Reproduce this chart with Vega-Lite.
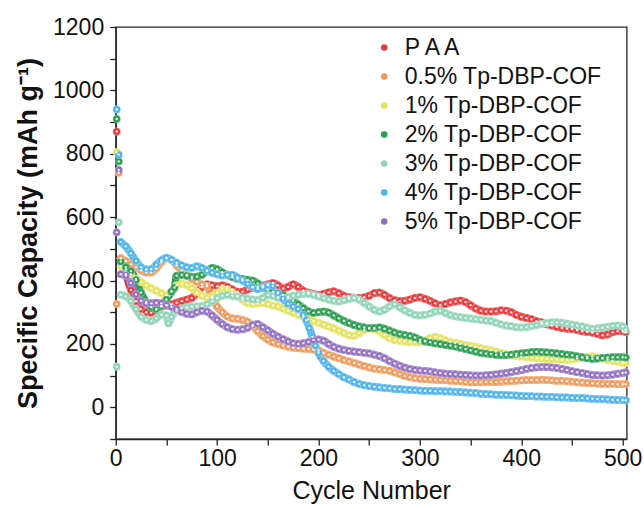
{
"$schema":"https://vega.github.io/schema/vega-lite/v6.json",
"autosize":{"type":"none"},
"padding":{"left":115.7,"top":27,"right":17.3,"bottom":70},
"width":511,"height":412,
"background":"white",
"config":{"view":{"stroke":"#222","strokeWidth":1.3},"font":"Liberation Sans",
"axis":{"domainColor":"#222","domainWidth":1.3,"tickColor":"#222","tickWidth":1.3,"tickSize":6,"grid":false,"labelFont":"Liberation Sans","labelFontSize":23,"labelColor":"#111","titleFont":"Liberation Sans","titleColor":"#111"},
"legend":{"orient":"none","legendX":257,"legendY":9,"symbolType":"circle","symbolSize":42,"symbolStrokeWidth":0,"labelFont":"Liberation Sans","labelFontSize":23,"labelColor":"#111","labelOffset":9,"rowPadding":5,"labelLimit":400,"title":null}},
"data":{"values":[
{"s":"P A A","x":1,"y":870},{"s":"P A A","x":5,"y":470},{"s":"P A A","x":10,"y":420},{"s":"P A A","x":15,"y":370},{"s":"P A A","x":20,"y":335},{"s":"P A A","x":25,"y":310},{"s":"P A A","x":30,"y":300},{"s":"P A A","x":35,"y":298},{"s":"P A A","x":40,"y":308},{"s":"P A A","x":45,"y":318},{"s":"P A A","x":50,"y":322},{"s":"P A A","x":55,"y":325},{"s":"P A A","x":60,"y":330},{"s":"P A A","x":65,"y":335},{"s":"P A A","x":70,"y":340},{"s":"P A A","x":75,"y":345},{"s":"P A A","x":80,"y":360},{"s":"P A A","x":85,"y":380},{"s":"P A A","x":90,"y":388},{"s":"P A A","x":95,"y":385},{"s":"P A A","x":100,"y":382},{"s":"P A A","x":105,"y":385},{"s":"P A A","x":110,"y":380},{"s":"P A A","x":115,"y":372},{"s":"P A A","x":120,"y":365},{"s":"P A A","x":125,"y":365},{"s":"P A A","x":130,"y":372},{"s":"P A A","x":135,"y":378},{"s":"P A A","x":140,"y":380},{"s":"P A A","x":145,"y":384},{"s":"P A A","x":150,"y":388},{"s":"P A A","x":155,"y":392},{"s":"P A A","x":160,"y":385},{"s":"P A A","x":165,"y":375},{"s":"P A A","x":170,"y":380},{"s":"P A A","x":175,"y":388},{"s":"P A A","x":180,"y":380},{"s":"P A A","x":185,"y":368},{"s":"P A A","x":190,"y":362},{"s":"P A A","x":195,"y":358},{"s":"P A A","x":200,"y":355},{"s":"P A A","x":205,"y":358},{"s":"P A A","x":210,"y":363},{"s":"P A A","x":215,"y":366},{"s":"P A A","x":220,"y":360},{"s":"P A A","x":225,"y":352},{"s":"P A A","x":230,"y":347},{"s":"P A A","x":235,"y":346},{"s":"P A A","x":240,"y":345},{"s":"P A A","x":245,"y":347},{"s":"P A A","x":250,"y":352},{"s":"P A A","x":255,"y":360},{"s":"P A A","x":260,"y":362},{"s":"P A A","x":265,"y":355},{"s":"P A A","x":270,"y":345},{"s":"P A A","x":275,"y":338},{"s":"P A A","x":280,"y":335},{"s":"P A A","x":285,"y":336},{"s":"P A A","x":290,"y":340},{"s":"P A A","x":295,"y":345},{"s":"P A A","x":300,"y":347},{"s":"P A A","x":305,"y":342},{"s":"P A A","x":310,"y":336},{"s":"P A A","x":315,"y":328},{"s":"P A A","x":320,"y":322},{"s":"P A A","x":325,"y":326},{"s":"P A A","x":330,"y":331},{"s":"P A A","x":335,"y":334},{"s":"P A A","x":340,"y":337},{"s":"P A A","x":345,"y":332},{"s":"P A A","x":350,"y":322},{"s":"P A A","x":355,"y":312},{"s":"P A A","x":360,"y":305},{"s":"P A A","x":365,"y":302},{"s":"P A A","x":370,"y":302},{"s":"P A A","x":375,"y":303},{"s":"P A A","x":380,"y":306},{"s":"P A A","x":385,"y":305},{"s":"P A A","x":390,"y":300},{"s":"P A A","x":395,"y":292},{"s":"P A A","x":400,"y":286},{"s":"P A A","x":405,"y":282},{"s":"P A A","x":410,"y":278},{"s":"P A A","x":415,"y":272},{"s":"P A A","x":420,"y":268},{"s":"P A A","x":425,"y":262},{"s":"P A A","x":430,"y":258},{"s":"P A A","x":435,"y":254},{"s":"P A A","x":440,"y":250},{"s":"P A A","x":445,"y":248},{"s":"P A A","x":450,"y":247},{"s":"P A A","x":455,"y":244},{"s":"P A A","x":460,"y":240},{"s":"P A A","x":465,"y":238},{"s":"P A A","x":470,"y":236},{"s":"P A A","x":475,"y":232},{"s":"P A A","x":480,"y":227},{"s":"P A A","x":485,"y":230},{"s":"P A A","x":490,"y":237},{"s":"P A A","x":495,"y":240},{"s":"P A A","x":500,"y":240},{"s":"P A A","x":503,"y":238},
{"s":"0.5% Tp-DBP-COF","x":1,"y":326},{"s":"0.5% Tp-DBP-COF","x":3,"y":740},{"s":"0.5% Tp-DBP-COF","x":5,"y":470},{"s":"0.5% Tp-DBP-COF","x":10,"y":462},{"s":"0.5% Tp-DBP-COF","x":15,"y":452},{"s":"0.5% Tp-DBP-COF","x":20,"y":442},{"s":"0.5% Tp-DBP-COF","x":25,"y":432},{"s":"0.5% Tp-DBP-COF","x":30,"y":425},{"s":"0.5% Tp-DBP-COF","x":35,"y":425},{"s":"0.5% Tp-DBP-COF","x":40,"y":438},{"s":"0.5% Tp-DBP-COF","x":45,"y":458},{"s":"0.5% Tp-DBP-COF","x":50,"y":470},{"s":"0.5% Tp-DBP-COF","x":55,"y":465},{"s":"0.5% Tp-DBP-COF","x":60,"y":448},{"s":"0.5% Tp-DBP-COF","x":65,"y":432},{"s":"0.5% Tp-DBP-COF","x":70,"y":418},{"s":"0.5% Tp-DBP-COF","x":75,"y":406},{"s":"0.5% Tp-DBP-COF","x":80,"y":396},{"s":"0.5% Tp-DBP-COF","x":85,"y":388},{"s":"0.5% Tp-DBP-COF","x":90,"y":382},{"s":"0.5% Tp-DBP-COF","x":95,"y":345},{"s":"0.5% Tp-DBP-COF","x":100,"y":318},{"s":"0.5% Tp-DBP-COF","x":105,"y":300},{"s":"0.5% Tp-DBP-COF","x":110,"y":287},{"s":"0.5% Tp-DBP-COF","x":115,"y":281},{"s":"0.5% Tp-DBP-COF","x":120,"y":279},{"s":"0.5% Tp-DBP-COF","x":125,"y":276},{"s":"0.5% Tp-DBP-COF","x":130,"y":270},{"s":"0.5% Tp-DBP-COF","x":135,"y":256},{"s":"0.5% Tp-DBP-COF","x":140,"y":240},{"s":"0.5% Tp-DBP-COF","x":145,"y":225},{"s":"0.5% Tp-DBP-COF","x":150,"y":214},{"s":"0.5% Tp-DBP-COF","x":155,"y":205},{"s":"0.5% Tp-DBP-COF","x":160,"y":200},{"s":"0.5% Tp-DBP-COF","x":165,"y":195},{"s":"0.5% Tp-DBP-COF","x":170,"y":191},{"s":"0.5% Tp-DBP-COF","x":175,"y":188},{"s":"0.5% Tp-DBP-COF","x":180,"y":186},{"s":"0.5% Tp-DBP-COF","x":185,"y":185},{"s":"0.5% Tp-DBP-COF","x":190,"y":184},{"s":"0.5% Tp-DBP-COF","x":195,"y":182},{"s":"0.5% Tp-DBP-COF","x":200,"y":179},{"s":"0.5% Tp-DBP-COF","x":205,"y":172},{"s":"0.5% Tp-DBP-COF","x":210,"y":166},{"s":"0.5% Tp-DBP-COF","x":215,"y":160},{"s":"0.5% Tp-DBP-COF","x":220,"y":155},{"s":"0.5% Tp-DBP-COF","x":225,"y":149},{"s":"0.5% Tp-DBP-COF","x":230,"y":145},{"s":"0.5% Tp-DBP-COF","x":235,"y":140},{"s":"0.5% Tp-DBP-COF","x":240,"y":135},{"s":"0.5% Tp-DBP-COF","x":245,"y":130},{"s":"0.5% Tp-DBP-COF","x":250,"y":126},{"s":"0.5% Tp-DBP-COF","x":255,"y":122},{"s":"0.5% Tp-DBP-COF","x":260,"y":120},{"s":"0.5% Tp-DBP-COF","x":265,"y":118},{"s":"0.5% Tp-DBP-COF","x":270,"y":115},{"s":"0.5% Tp-DBP-COF","x":275,"y":110},{"s":"0.5% Tp-DBP-COF","x":280,"y":105},{"s":"0.5% Tp-DBP-COF","x":285,"y":99},{"s":"0.5% Tp-DBP-COF","x":290,"y":95},{"s":"0.5% Tp-DBP-COF","x":295,"y":92},{"s":"0.5% Tp-DBP-COF","x":300,"y":90},{"s":"0.5% Tp-DBP-COF","x":305,"y":89},{"s":"0.5% Tp-DBP-COF","x":310,"y":88},{"s":"0.5% Tp-DBP-COF","x":315,"y":87},{"s":"0.5% Tp-DBP-COF","x":320,"y":86},{"s":"0.5% Tp-DBP-COF","x":325,"y":85},{"s":"0.5% Tp-DBP-COF","x":330,"y":84},{"s":"0.5% Tp-DBP-COF","x":335,"y":83},{"s":"0.5% Tp-DBP-COF","x":340,"y":82},{"s":"0.5% Tp-DBP-COF","x":345,"y":80},{"s":"0.5% Tp-DBP-COF","x":350,"y":79},{"s":"0.5% Tp-DBP-COF","x":355,"y":79},{"s":"0.5% Tp-DBP-COF","x":360,"y":79},{"s":"0.5% Tp-DBP-COF","x":365,"y":80},{"s":"0.5% Tp-DBP-COF","x":370,"y":80},{"s":"0.5% Tp-DBP-COF","x":375,"y":80},{"s":"0.5% Tp-DBP-COF","x":380,"y":81},{"s":"0.5% Tp-DBP-COF","x":385,"y":82},{"s":"0.5% Tp-DBP-COF","x":390,"y":83},{"s":"0.5% Tp-DBP-COF","x":395,"y":84},{"s":"0.5% Tp-DBP-COF","x":400,"y":85},{"s":"0.5% Tp-DBP-COF","x":405,"y":86},{"s":"0.5% Tp-DBP-COF","x":410,"y":86},{"s":"0.5% Tp-DBP-COF","x":415,"y":86},{"s":"0.5% Tp-DBP-COF","x":420,"y":87},{"s":"0.5% Tp-DBP-COF","x":425,"y":86},{"s":"0.5% Tp-DBP-COF","x":430,"y":85},{"s":"0.5% Tp-DBP-COF","x":435,"y":84},{"s":"0.5% Tp-DBP-COF","x":440,"y":84},{"s":"0.5% Tp-DBP-COF","x":445,"y":82},{"s":"0.5% Tp-DBP-COF","x":450,"y":81},{"s":"0.5% Tp-DBP-COF","x":455,"y":79},{"s":"0.5% Tp-DBP-COF","x":460,"y":78},{"s":"0.5% Tp-DBP-COF","x":465,"y":77},{"s":"0.5% Tp-DBP-COF","x":470,"y":76},{"s":"0.5% Tp-DBP-COF","x":475,"y":75},{"s":"0.5% Tp-DBP-COF","x":480,"y":74},{"s":"0.5% Tp-DBP-COF","x":485,"y":74},{"s":"0.5% Tp-DBP-COF","x":490,"y":74},{"s":"0.5% Tp-DBP-COF","x":495,"y":73},{"s":"0.5% Tp-DBP-COF","x":500,"y":73},{"s":"0.5% Tp-DBP-COF","x":503,"y":73},
{"s":"1% Tp-DBP-COF","x":1,"y":805},{"s":"1% Tp-DBP-COF","x":5,"y":445},{"s":"1% Tp-DBP-COF","x":10,"y":435},{"s":"1% Tp-DBP-COF","x":15,"y":420},{"s":"1% Tp-DBP-COF","x":20,"y":405},{"s":"1% Tp-DBP-COF","x":25,"y":395},{"s":"1% Tp-DBP-COF","x":30,"y":385},{"s":"1% Tp-DBP-COF","x":35,"y":376},{"s":"1% Tp-DBP-COF","x":40,"y":368},{"s":"1% Tp-DBP-COF","x":45,"y":360},{"s":"1% Tp-DBP-COF","x":50,"y":354},{"s":"1% Tp-DBP-COF","x":55,"y":366},{"s":"1% Tp-DBP-COF","x":60,"y":385},{"s":"1% Tp-DBP-COF","x":65,"y":390},{"s":"1% Tp-DBP-COF","x":70,"y":386},{"s":"1% Tp-DBP-COF","x":75,"y":376},{"s":"1% Tp-DBP-COF","x":80,"y":364},{"s":"1% Tp-DBP-COF","x":85,"y":352},{"s":"1% Tp-DBP-COF","x":90,"y":346},{"s":"1% Tp-DBP-COF","x":95,"y":350},{"s":"1% Tp-DBP-COF","x":100,"y":362},{"s":"1% Tp-DBP-COF","x":105,"y":374},{"s":"1% Tp-DBP-COF","x":110,"y":372},{"s":"1% Tp-DBP-COF","x":115,"y":362},{"s":"1% Tp-DBP-COF","x":120,"y":352},{"s":"1% Tp-DBP-COF","x":125,"y":339},{"s":"1% Tp-DBP-COF","x":130,"y":329},{"s":"1% Tp-DBP-COF","x":135,"y":326},{"s":"1% Tp-DBP-COF","x":140,"y":328},{"s":"1% Tp-DBP-COF","x":145,"y":330},{"s":"1% Tp-DBP-COF","x":150,"y":326},{"s":"1% Tp-DBP-COF","x":155,"y":321},{"s":"1% Tp-DBP-COF","x":160,"y":318},{"s":"1% Tp-DBP-COF","x":165,"y":312},{"s":"1% Tp-DBP-COF","x":170,"y":305},{"s":"1% Tp-DBP-COF","x":175,"y":298},{"s":"1% Tp-DBP-COF","x":180,"y":292},{"s":"1% Tp-DBP-COF","x":185,"y":285},{"s":"1% Tp-DBP-COF","x":190,"y":278},{"s":"1% Tp-DBP-COF","x":195,"y":272},{"s":"1% Tp-DBP-COF","x":200,"y":267},{"s":"1% Tp-DBP-COF","x":205,"y":261},{"s":"1% Tp-DBP-COF","x":210,"y":255},{"s":"1% Tp-DBP-COF","x":215,"y":249},{"s":"1% Tp-DBP-COF","x":220,"y":242},{"s":"1% Tp-DBP-COF","x":225,"y":235},{"s":"1% Tp-DBP-COF","x":230,"y":228},{"s":"1% Tp-DBP-COF","x":235,"y":226},{"s":"1% Tp-DBP-COF","x":240,"y":234},{"s":"1% Tp-DBP-COF","x":245,"y":244},{"s":"1% Tp-DBP-COF","x":250,"y":249},{"s":"1% Tp-DBP-COF","x":255,"y":247},{"s":"1% Tp-DBP-COF","x":260,"y":239},{"s":"1% Tp-DBP-COF","x":265,"y":228},{"s":"1% Tp-DBP-COF","x":270,"y":218},{"s":"1% Tp-DBP-COF","x":275,"y":212},{"s":"1% Tp-DBP-COF","x":280,"y":210},{"s":"1% Tp-DBP-COF","x":285,"y":208},{"s":"1% Tp-DBP-COF","x":290,"y":206},{"s":"1% Tp-DBP-COF","x":295,"y":205},{"s":"1% Tp-DBP-COF","x":300,"y":205},{"s":"1% Tp-DBP-COF","x":305,"y":210},{"s":"1% Tp-DBP-COF","x":310,"y":218},{"s":"1% Tp-DBP-COF","x":315,"y":222},{"s":"1% Tp-DBP-COF","x":320,"y":219},{"s":"1% Tp-DBP-COF","x":325,"y":212},{"s":"1% Tp-DBP-COF","x":330,"y":206},{"s":"1% Tp-DBP-COF","x":335,"y":203},{"s":"1% Tp-DBP-COF","x":340,"y":200},{"s":"1% Tp-DBP-COF","x":345,"y":197},{"s":"1% Tp-DBP-COF","x":350,"y":194},{"s":"1% Tp-DBP-COF","x":355,"y":191},{"s":"1% Tp-DBP-COF","x":360,"y":187},{"s":"1% Tp-DBP-COF","x":365,"y":184},{"s":"1% Tp-DBP-COF","x":370,"y":180},{"s":"1% Tp-DBP-COF","x":375,"y":176},{"s":"1% Tp-DBP-COF","x":380,"y":172},{"s":"1% Tp-DBP-COF","x":385,"y":168},{"s":"1% Tp-DBP-COF","x":390,"y":165},{"s":"1% Tp-DBP-COF","x":395,"y":162},{"s":"1% Tp-DBP-COF","x":400,"y":160},{"s":"1% Tp-DBP-COF","x":405,"y":158},{"s":"1% Tp-DBP-COF","x":410,"y":157},{"s":"1% Tp-DBP-COF","x":415,"y":155},{"s":"1% Tp-DBP-COF","x":420,"y":154},{"s":"1% Tp-DBP-COF","x":425,"y":153},{"s":"1% Tp-DBP-COF","x":430,"y":152},{"s":"1% Tp-DBP-COF","x":435,"y":151},{"s":"1% Tp-DBP-COF","x":440,"y":150},{"s":"1% Tp-DBP-COF","x":445,"y":150},{"s":"1% Tp-DBP-COF","x":450,"y":151},{"s":"1% Tp-DBP-COF","x":455,"y":154},{"s":"1% Tp-DBP-COF","x":460,"y":157},{"s":"1% Tp-DBP-COF","x":465,"y":160},{"s":"1% Tp-DBP-COF","x":470,"y":161},{"s":"1% Tp-DBP-COF","x":475,"y":158},{"s":"1% Tp-DBP-COF","x":480,"y":154},{"s":"1% Tp-DBP-COF","x":485,"y":150},{"s":"1% Tp-DBP-COF","x":490,"y":147},{"s":"1% Tp-DBP-COF","x":495,"y":144},{"s":"1% Tp-DBP-COF","x":500,"y":141},{"s":"1% Tp-DBP-COF","x":503,"y":140},
{"s":"2% Tp-DBP-COF","x":1,"y":910},{"s":"2% Tp-DBP-COF","x":3,"y":776},{"s":"2% Tp-DBP-COF","x":5,"y":460},{"s":"2% Tp-DBP-COF","x":10,"y":442},{"s":"2% Tp-DBP-COF","x":15,"y":430},{"s":"2% Tp-DBP-COF","x":20,"y":402},{"s":"2% Tp-DBP-COF","x":25,"y":362},{"s":"2% Tp-DBP-COF","x":30,"y":332},{"s":"2% Tp-DBP-COF","x":35,"y":316},{"s":"2% Tp-DBP-COF","x":40,"y":310},{"s":"2% Tp-DBP-COF","x":45,"y":320},{"s":"2% Tp-DBP-COF","x":50,"y":340},{"s":"2% Tp-DBP-COF","x":55,"y":365},{"s":"2% Tp-DBP-COF","x":58,"y":378},{"s":"2% Tp-DBP-COF","x":60,"y":415},{"s":"2% Tp-DBP-COF","x":65,"y":418},{"s":"2% Tp-DBP-COF","x":70,"y":415},{"s":"2% Tp-DBP-COF","x":75,"y":412},{"s":"2% Tp-DBP-COF","x":80,"y":412},{"s":"2% Tp-DBP-COF","x":85,"y":418},{"s":"2% Tp-DBP-COF","x":90,"y":430},{"s":"2% Tp-DBP-COF","x":95,"y":440},{"s":"2% Tp-DBP-COF","x":100,"y":436},{"s":"2% Tp-DBP-COF","x":105,"y":426},{"s":"2% Tp-DBP-COF","x":110,"y":418},{"s":"2% Tp-DBP-COF","x":115,"y":411},{"s":"2% Tp-DBP-COF","x":120,"y":406},{"s":"2% Tp-DBP-COF","x":125,"y":405},{"s":"2% Tp-DBP-COF","x":130,"y":402},{"s":"2% Tp-DBP-COF","x":135,"y":400},{"s":"2% Tp-DBP-COF","x":140,"y":391},{"s":"2% Tp-DBP-COF","x":145,"y":381},{"s":"2% Tp-DBP-COF","x":150,"y":371},{"s":"2% Tp-DBP-COF","x":155,"y":365},{"s":"2% Tp-DBP-COF","x":160,"y":360},{"s":"2% Tp-DBP-COF","x":165,"y":355},{"s":"2% Tp-DBP-COF","x":170,"y":346},{"s":"2% Tp-DBP-COF","x":175,"y":336},{"s":"2% Tp-DBP-COF","x":180,"y":325},{"s":"2% Tp-DBP-COF","x":185,"y":313},{"s":"2% Tp-DBP-COF","x":190,"y":303},{"s":"2% Tp-DBP-COF","x":195,"y":298},{"s":"2% Tp-DBP-COF","x":200,"y":300},{"s":"2% Tp-DBP-COF","x":205,"y":302},{"s":"2% Tp-DBP-COF","x":210,"y":299},{"s":"2% Tp-DBP-COF","x":215,"y":290},{"s":"2% Tp-DBP-COF","x":220,"y":281},{"s":"2% Tp-DBP-COF","x":225,"y":273},{"s":"2% Tp-DBP-COF","x":230,"y":266},{"s":"2% Tp-DBP-COF","x":235,"y":260},{"s":"2% Tp-DBP-COF","x":240,"y":255},{"s":"2% Tp-DBP-COF","x":245,"y":252},{"s":"2% Tp-DBP-COF","x":250,"y":250},{"s":"2% Tp-DBP-COF","x":255,"y":250},{"s":"2% Tp-DBP-COF","x":260,"y":252},{"s":"2% Tp-DBP-COF","x":265,"y":248},{"s":"2% Tp-DBP-COF","x":270,"y":242},{"s":"2% Tp-DBP-COF","x":275,"y":236},{"s":"2% Tp-DBP-COF","x":280,"y":231},{"s":"2% Tp-DBP-COF","x":285,"y":228},{"s":"2% Tp-DBP-COF","x":290,"y":225},{"s":"2% Tp-DBP-COF","x":295,"y":220},{"s":"2% Tp-DBP-COF","x":300,"y":213},{"s":"2% Tp-DBP-COF","x":305,"y":208},{"s":"2% Tp-DBP-COF","x":310,"y":205},{"s":"2% Tp-DBP-COF","x":315,"y":202},{"s":"2% Tp-DBP-COF","x":320,"y":200},{"s":"2% Tp-DBP-COF","x":325,"y":197},{"s":"2% Tp-DBP-COF","x":330,"y":195},{"s":"2% Tp-DBP-COF","x":335,"y":192},{"s":"2% Tp-DBP-COF","x":340,"y":188},{"s":"2% Tp-DBP-COF","x":345,"y":184},{"s":"2% Tp-DBP-COF","x":350,"y":180},{"s":"2% Tp-DBP-COF","x":355,"y":176},{"s":"2% Tp-DBP-COF","x":360,"y":172},{"s":"2% Tp-DBP-COF","x":365,"y":170},{"s":"2% Tp-DBP-COF","x":370,"y":168},{"s":"2% Tp-DBP-COF","x":375,"y":166},{"s":"2% Tp-DBP-COF","x":380,"y":165},{"s":"2% Tp-DBP-COF","x":385,"y":165},{"s":"2% Tp-DBP-COF","x":390,"y":166},{"s":"2% Tp-DBP-COF","x":395,"y":168},{"s":"2% Tp-DBP-COF","x":400,"y":170},{"s":"2% Tp-DBP-COF","x":405,"y":172},{"s":"2% Tp-DBP-COF","x":410,"y":174},{"s":"2% Tp-DBP-COF","x":415,"y":175},{"s":"2% Tp-DBP-COF","x":420,"y":174},{"s":"2% Tp-DBP-COF","x":425,"y":173},{"s":"2% Tp-DBP-COF","x":430,"y":172},{"s":"2% Tp-DBP-COF","x":435,"y":170},{"s":"2% Tp-DBP-COF","x":440,"y":168},{"s":"2% Tp-DBP-COF","x":445,"y":166},{"s":"2% Tp-DBP-COF","x":450,"y":164},{"s":"2% Tp-DBP-COF","x":455,"y":161},{"s":"2% Tp-DBP-COF","x":460,"y":158},{"s":"2% Tp-DBP-COF","x":465,"y":155},{"s":"2% Tp-DBP-COF","x":470,"y":153},{"s":"2% Tp-DBP-COF","x":475,"y":154},{"s":"2% Tp-DBP-COF","x":480,"y":156},{"s":"2% Tp-DBP-COF","x":485,"y":157},{"s":"2% Tp-DBP-COF","x":490,"y":158},{"s":"2% Tp-DBP-COF","x":495,"y":158},{"s":"2% Tp-DBP-COF","x":500,"y":158},{"s":"2% Tp-DBP-COF","x":503,"y":157},
{"s":"3% Tp-DBP-COF","x":1,"y":128},{"s":"3% Tp-DBP-COF","x":3,"y":584},{"s":"3% Tp-DBP-COF","x":5,"y":355},{"s":"3% Tp-DBP-COF","x":10,"y":350},{"s":"3% Tp-DBP-COF","x":15,"y":335},{"s":"3% Tp-DBP-COF","x":20,"y":310},{"s":"3% Tp-DBP-COF","x":25,"y":286},{"s":"3% Tp-DBP-COF","x":30,"y":276},{"s":"3% Tp-DBP-COF","x":35,"y":272},{"s":"3% Tp-DBP-COF","x":40,"y":280},{"s":"3% Tp-DBP-COF","x":45,"y":292},{"s":"3% Tp-DBP-COF","x":50,"y":290},{"s":"3% Tp-DBP-COF","x":52,"y":265},{"s":"3% Tp-DBP-COF","x":55,"y":285},{"s":"3% Tp-DBP-COF","x":60,"y":305},{"s":"3% Tp-DBP-COF","x":65,"y":312},{"s":"3% Tp-DBP-COF","x":70,"y":315},{"s":"3% Tp-DBP-COF","x":75,"y":318},{"s":"3% Tp-DBP-COF","x":80,"y":318},{"s":"3% Tp-DBP-COF","x":85,"y":320},{"s":"3% Tp-DBP-COF","x":90,"y":325},{"s":"3% Tp-DBP-COF","x":95,"y":335},{"s":"3% Tp-DBP-COF","x":100,"y":345},{"s":"3% Tp-DBP-COF","x":105,"y":352},{"s":"3% Tp-DBP-COF","x":110,"y":355},{"s":"3% Tp-DBP-COF","x":115,"y":352},{"s":"3% Tp-DBP-COF","x":120,"y":350},{"s":"3% Tp-DBP-COF","x":125,"y":346},{"s":"3% Tp-DBP-COF","x":130,"y":343},{"s":"3% Tp-DBP-COF","x":135,"y":340},{"s":"3% Tp-DBP-COF","x":140,"y":338},{"s":"3% Tp-DBP-COF","x":145,"y":345},{"s":"3% Tp-DBP-COF","x":150,"y":354},{"s":"3% Tp-DBP-COF","x":155,"y":352},{"s":"3% Tp-DBP-COF","x":160,"y":346},{"s":"3% Tp-DBP-COF","x":165,"y":345},{"s":"3% Tp-DBP-COF","x":170,"y":348},{"s":"3% Tp-DBP-COF","x":175,"y":352},{"s":"3% Tp-DBP-COF","x":180,"y":355},{"s":"3% Tp-DBP-COF","x":185,"y":358},{"s":"3% Tp-DBP-COF","x":190,"y":358},{"s":"3% Tp-DBP-COF","x":195,"y":355},{"s":"3% Tp-DBP-COF","x":200,"y":350},{"s":"3% Tp-DBP-COF","x":205,"y":345},{"s":"3% Tp-DBP-COF","x":210,"y":340},{"s":"3% Tp-DBP-COF","x":215,"y":336},{"s":"3% Tp-DBP-COF","x":220,"y":334},{"s":"3% Tp-DBP-COF","x":225,"y":338},{"s":"3% Tp-DBP-COF","x":230,"y":342},{"s":"3% Tp-DBP-COF","x":235,"y":345},{"s":"3% Tp-DBP-COF","x":240,"y":340},{"s":"3% Tp-DBP-COF","x":245,"y":330},{"s":"3% Tp-DBP-COF","x":250,"y":318},{"s":"3% Tp-DBP-COF","x":255,"y":308},{"s":"3% Tp-DBP-COF","x":260,"y":302},{"s":"3% Tp-DBP-COF","x":265,"y":308},{"s":"3% Tp-DBP-COF","x":270,"y":318},{"s":"3% Tp-DBP-COF","x":275,"y":325},{"s":"3% Tp-DBP-COF","x":280,"y":316},{"s":"3% Tp-DBP-COF","x":285,"y":306},{"s":"3% Tp-DBP-COF","x":290,"y":298},{"s":"3% Tp-DBP-COF","x":295,"y":292},{"s":"3% Tp-DBP-COF","x":300,"y":290},{"s":"3% Tp-DBP-COF","x":305,"y":292},{"s":"3% Tp-DBP-COF","x":310,"y":296},{"s":"3% Tp-DBP-COF","x":315,"y":302},{"s":"3% Tp-DBP-COF","x":320,"y":305},{"s":"3% Tp-DBP-COF","x":325,"y":298},{"s":"3% Tp-DBP-COF","x":330,"y":291},{"s":"3% Tp-DBP-COF","x":335,"y":287},{"s":"3% Tp-DBP-COF","x":340,"y":284},{"s":"3% Tp-DBP-COF","x":345,"y":282},{"s":"3% Tp-DBP-COF","x":350,"y":280},{"s":"3% Tp-DBP-COF","x":355,"y":278},{"s":"3% Tp-DBP-COF","x":360,"y":276},{"s":"3% Tp-DBP-COF","x":365,"y":274},{"s":"3% Tp-DBP-COF","x":370,"y":272},{"s":"3% Tp-DBP-COF","x":375,"y":267},{"s":"3% Tp-DBP-COF","x":380,"y":262},{"s":"3% Tp-DBP-COF","x":385,"y":258},{"s":"3% Tp-DBP-COF","x":390,"y":256},{"s":"3% Tp-DBP-COF","x":395,"y":253},{"s":"3% Tp-DBP-COF","x":400,"y":252},{"s":"3% Tp-DBP-COF","x":405,"y":253},{"s":"3% Tp-DBP-COF","x":410,"y":256},{"s":"3% Tp-DBP-COF","x":415,"y":259},{"s":"3% Tp-DBP-COF","x":420,"y":263},{"s":"3% Tp-DBP-COF","x":425,"y":266},{"s":"3% Tp-DBP-COF","x":430,"y":268},{"s":"3% Tp-DBP-COF","x":435,"y":268},{"s":"3% Tp-DBP-COF","x":440,"y":267},{"s":"3% Tp-DBP-COF","x":445,"y":264},{"s":"3% Tp-DBP-COF","x":450,"y":261},{"s":"3% Tp-DBP-COF","x":455,"y":258},{"s":"3% Tp-DBP-COF","x":460,"y":255},{"s":"3% Tp-DBP-COF","x":465,"y":251},{"s":"3% Tp-DBP-COF","x":470,"y":248},{"s":"3% Tp-DBP-COF","x":475,"y":249},{"s":"3% Tp-DBP-COF","x":480,"y":251},{"s":"3% Tp-DBP-COF","x":485,"y":254},{"s":"3% Tp-DBP-COF","x":490,"y":257},{"s":"3% Tp-DBP-COF","x":495,"y":258},{"s":"3% Tp-DBP-COF","x":500,"y":255},{"s":"3% Tp-DBP-COF","x":503,"y":245},
{"s":"4% Tp-DBP-COF","x":1,"y":940},{"s":"4% Tp-DBP-COF","x":3,"y":797},{"s":"4% Tp-DBP-COF","x":5,"y":522},{"s":"4% Tp-DBP-COF","x":10,"y":508},{"s":"4% Tp-DBP-COF","x":15,"y":486},{"s":"4% Tp-DBP-COF","x":20,"y":462},{"s":"4% Tp-DBP-COF","x":25,"y":442},{"s":"4% Tp-DBP-COF","x":30,"y":435},{"s":"4% Tp-DBP-COF","x":35,"y":436},{"s":"4% Tp-DBP-COF","x":40,"y":450},{"s":"4% Tp-DBP-COF","x":45,"y":464},{"s":"4% Tp-DBP-COF","x":50,"y":472},{"s":"4% Tp-DBP-COF","x":55,"y":466},{"s":"4% Tp-DBP-COF","x":60,"y":456},{"s":"4% Tp-DBP-COF","x":65,"y":448},{"s":"4% Tp-DBP-COF","x":70,"y":442},{"s":"4% Tp-DBP-COF","x":75,"y":440},{"s":"4% Tp-DBP-COF","x":80,"y":445},{"s":"4% Tp-DBP-COF","x":85,"y":440},{"s":"4% Tp-DBP-COF","x":90,"y":432},{"s":"4% Tp-DBP-COF","x":95,"y":425},{"s":"4% Tp-DBP-COF","x":100,"y":420},{"s":"4% Tp-DBP-COF","x":105,"y":416},{"s":"4% Tp-DBP-COF","x":110,"y":418},{"s":"4% Tp-DBP-COF","x":115,"y":418},{"s":"4% Tp-DBP-COF","x":120,"y":410},{"s":"4% Tp-DBP-COF","x":125,"y":400},{"s":"4% Tp-DBP-COF","x":130,"y":390},{"s":"4% Tp-DBP-COF","x":135,"y":380},{"s":"4% Tp-DBP-COF","x":140,"y":373},{"s":"4% Tp-DBP-COF","x":145,"y":378},{"s":"4% Tp-DBP-COF","x":150,"y":385},{"s":"4% Tp-DBP-COF","x":155,"y":383},{"s":"4% Tp-DBP-COF","x":160,"y":362},{"s":"4% Tp-DBP-COF","x":165,"y":342},{"s":"4% Tp-DBP-COF","x":170,"y":327},{"s":"4% Tp-DBP-COF","x":175,"y":318},{"s":"4% Tp-DBP-COF","x":180,"y":310},{"s":"4% Tp-DBP-COF","x":185,"y":292},{"s":"4% Tp-DBP-COF","x":188,"y":275},{"s":"4% Tp-DBP-COF","x":191,"y":250},{"s":"4% Tp-DBP-COF","x":194,"y":222},{"s":"4% Tp-DBP-COF","x":197,"y":194},{"s":"4% Tp-DBP-COF","x":200,"y":172},{"s":"4% Tp-DBP-COF","x":205,"y":146},{"s":"4% Tp-DBP-COF","x":210,"y":128},{"s":"4% Tp-DBP-COF","x":215,"y":115},{"s":"4% Tp-DBP-COF","x":220,"y":105},{"s":"4% Tp-DBP-COF","x":225,"y":95},{"s":"4% Tp-DBP-COF","x":230,"y":88},{"s":"4% Tp-DBP-COF","x":235,"y":80},{"s":"4% Tp-DBP-COF","x":240,"y":74},{"s":"4% Tp-DBP-COF","x":245,"y":70},{"s":"4% Tp-DBP-COF","x":250,"y":67},{"s":"4% Tp-DBP-COF","x":255,"y":65},{"s":"4% Tp-DBP-COF","x":260,"y":63},{"s":"4% Tp-DBP-COF","x":265,"y":61},{"s":"4% Tp-DBP-COF","x":270,"y":60},{"s":"4% Tp-DBP-COF","x":275,"y":58},{"s":"4% Tp-DBP-COF","x":280,"y":57},{"s":"4% Tp-DBP-COF","x":285,"y":56},{"s":"4% Tp-DBP-COF","x":290,"y":55},{"s":"4% Tp-DBP-COF","x":295,"y":54},{"s":"4% Tp-DBP-COF","x":300,"y":53},{"s":"4% Tp-DBP-COF","x":305,"y":52},{"s":"4% Tp-DBP-COF","x":310,"y":52},{"s":"4% Tp-DBP-COF","x":315,"y":51},{"s":"4% Tp-DBP-COF","x":320,"y":51},{"s":"4% Tp-DBP-COF","x":325,"y":50},{"s":"4% Tp-DBP-COF","x":330,"y":50},{"s":"4% Tp-DBP-COF","x":335,"y":49},{"s":"4% Tp-DBP-COF","x":340,"y":48},{"s":"4% Tp-DBP-COF","x":345,"y":47},{"s":"4% Tp-DBP-COF","x":350,"y":46},{"s":"4% Tp-DBP-COF","x":355,"y":45},{"s":"4% Tp-DBP-COF","x":360,"y":43},{"s":"4% Tp-DBP-COF","x":365,"y":42},{"s":"4% Tp-DBP-COF","x":370,"y":41},{"s":"4% Tp-DBP-COF","x":375,"y":40},{"s":"4% Tp-DBP-COF","x":380,"y":40},{"s":"4% Tp-DBP-COF","x":385,"y":39},{"s":"4% Tp-DBP-COF","x":390,"y":38},{"s":"4% Tp-DBP-COF","x":395,"y":37},{"s":"4% Tp-DBP-COF","x":400,"y":36},{"s":"4% Tp-DBP-COF","x":405,"y":35},{"s":"4% Tp-DBP-COF","x":410,"y":35},{"s":"4% Tp-DBP-COF","x":415,"y":34},{"s":"4% Tp-DBP-COF","x":420,"y":34},{"s":"4% Tp-DBP-COF","x":425,"y":33},{"s":"4% Tp-DBP-COF","x":430,"y":33},{"s":"4% Tp-DBP-COF","x":435,"y":32},{"s":"4% Tp-DBP-COF","x":440,"y":31},{"s":"4% Tp-DBP-COF","x":445,"y":31},{"s":"4% Tp-DBP-COF","x":450,"y":30},{"s":"4% Tp-DBP-COF","x":455,"y":29},{"s":"4% Tp-DBP-COF","x":460,"y":29},{"s":"4% Tp-DBP-COF","x":465,"y":28},{"s":"4% Tp-DBP-COF","x":470,"y":27},{"s":"4% Tp-DBP-COF","x":475,"y":26},{"s":"4% Tp-DBP-COF","x":480,"y":26},{"s":"4% Tp-DBP-COF","x":485,"y":25},{"s":"4% Tp-DBP-COF","x":490,"y":24},{"s":"4% Tp-DBP-COF","x":495,"y":23},{"s":"4% Tp-DBP-COF","x":500,"y":23},{"s":"4% Tp-DBP-COF","x":503,"y":22},
{"s":"5% Tp-DBP-COF","x":1,"y":552},{"s":"5% Tp-DBP-COF","x":3,"y":749},{"s":"5% Tp-DBP-COF","x":5,"y":420},{"s":"5% Tp-DBP-COF","x":10,"y":416},{"s":"5% Tp-DBP-COF","x":15,"y":392},{"s":"5% Tp-DBP-COF","x":20,"y":356},{"s":"5% Tp-DBP-COF","x":25,"y":336},{"s":"5% Tp-DBP-COF","x":30,"y":328},{"s":"5% Tp-DBP-COF","x":35,"y":328},{"s":"5% Tp-DBP-COF","x":40,"y":330},{"s":"5% Tp-DBP-COF","x":45,"y":328},{"s":"5% Tp-DBP-COF","x":50,"y":322},{"s":"5% Tp-DBP-COF","x":55,"y":317},{"s":"5% Tp-DBP-COF","x":60,"y":310},{"s":"5% Tp-DBP-COF","x":65,"y":301},{"s":"5% Tp-DBP-COF","x":70,"y":295},{"s":"5% Tp-DBP-COF","x":75,"y":293},{"s":"5% Tp-DBP-COF","x":80,"y":300},{"s":"5% Tp-DBP-COF","x":85,"y":305},{"s":"5% Tp-DBP-COF","x":90,"y":302},{"s":"5% Tp-DBP-COF","x":95,"y":290},{"s":"5% Tp-DBP-COF","x":100,"y":276},{"s":"5% Tp-DBP-COF","x":105,"y":263},{"s":"5% Tp-DBP-COF","x":110,"y":253},{"s":"5% Tp-DBP-COF","x":115,"y":247},{"s":"5% Tp-DBP-COF","x":120,"y":245},{"s":"5% Tp-DBP-COF","x":125,"y":246},{"s":"5% Tp-DBP-COF","x":130,"y":251},{"s":"5% Tp-DBP-COF","x":135,"y":260},{"s":"5% Tp-DBP-COF","x":140,"y":263},{"s":"5% Tp-DBP-COF","x":145,"y":253},{"s":"5% Tp-DBP-COF","x":150,"y":243},{"s":"5% Tp-DBP-COF","x":155,"y":232},{"s":"5% Tp-DBP-COF","x":160,"y":223},{"s":"5% Tp-DBP-COF","x":165,"y":215},{"s":"5% Tp-DBP-COF","x":170,"y":208},{"s":"5% Tp-DBP-COF","x":175,"y":202},{"s":"5% Tp-DBP-COF","x":180,"y":200},{"s":"5% Tp-DBP-COF","x":185,"y":202},{"s":"5% Tp-DBP-COF","x":190,"y":206},{"s":"5% Tp-DBP-COF","x":195,"y":212},{"s":"5% Tp-DBP-COF","x":200,"y":214},{"s":"5% Tp-DBP-COF","x":205,"y":210},{"s":"5% Tp-DBP-COF","x":210,"y":200},{"s":"5% Tp-DBP-COF","x":215,"y":191},{"s":"5% Tp-DBP-COF","x":220,"y":185},{"s":"5% Tp-DBP-COF","x":225,"y":181},{"s":"5% Tp-DBP-COF","x":230,"y":178},{"s":"5% Tp-DBP-COF","x":235,"y":176},{"s":"5% Tp-DBP-COF","x":240,"y":174},{"s":"5% Tp-DBP-COF","x":245,"y":172},{"s":"5% Tp-DBP-COF","x":250,"y":170},{"s":"5% Tp-DBP-COF","x":255,"y":166},{"s":"5% Tp-DBP-COF","x":260,"y":162},{"s":"5% Tp-DBP-COF","x":265,"y":155},{"s":"5% Tp-DBP-COF","x":270,"y":146},{"s":"5% Tp-DBP-COF","x":275,"y":138},{"s":"5% Tp-DBP-COF","x":280,"y":131},{"s":"5% Tp-DBP-COF","x":285,"y":125},{"s":"5% Tp-DBP-COF","x":290,"y":121},{"s":"5% Tp-DBP-COF","x":295,"y":118},{"s":"5% Tp-DBP-COF","x":300,"y":116},{"s":"5% Tp-DBP-COF","x":305,"y":115},{"s":"5% Tp-DBP-COF","x":310,"y":113},{"s":"5% Tp-DBP-COF","x":315,"y":110},{"s":"5% Tp-DBP-COF","x":320,"y":108},{"s":"5% Tp-DBP-COF","x":325,"y":106},{"s":"5% Tp-DBP-COF","x":330,"y":105},{"s":"5% Tp-DBP-COF","x":335,"y":104},{"s":"5% Tp-DBP-COF","x":340,"y":103},{"s":"5% Tp-DBP-COF","x":345,"y":102},{"s":"5% Tp-DBP-COF","x":350,"y":101},{"s":"5% Tp-DBP-COF","x":355,"y":100},{"s":"5% Tp-DBP-COF","x":360,"y":100},{"s":"5% Tp-DBP-COF","x":365,"y":101},{"s":"5% Tp-DBP-COF","x":370,"y":102},{"s":"5% Tp-DBP-COF","x":375,"y":104},{"s":"5% Tp-DBP-COF","x":380,"y":106},{"s":"5% Tp-DBP-COF","x":385,"y":108},{"s":"5% Tp-DBP-COF","x":390,"y":111},{"s":"5% Tp-DBP-COF","x":395,"y":114},{"s":"5% Tp-DBP-COF","x":400,"y":117},{"s":"5% Tp-DBP-COF","x":405,"y":121},{"s":"5% Tp-DBP-COF","x":410,"y":124},{"s":"5% Tp-DBP-COF","x":415,"y":126},{"s":"5% Tp-DBP-COF","x":420,"y":127},{"s":"5% Tp-DBP-COF","x":425,"y":127},{"s":"5% Tp-DBP-COF","x":430,"y":126},{"s":"5% Tp-DBP-COF","x":435,"y":124},{"s":"5% Tp-DBP-COF","x":440,"y":121},{"s":"5% Tp-DBP-COF","x":445,"y":118},{"s":"5% Tp-DBP-COF","x":450,"y":114},{"s":"5% Tp-DBP-COF","x":455,"y":111},{"s":"5% Tp-DBP-COF","x":460,"y":108},{"s":"5% Tp-DBP-COF","x":465,"y":105},{"s":"5% Tp-DBP-COF","x":470,"y":102},{"s":"5% Tp-DBP-COF","x":475,"y":101},{"s":"5% Tp-DBP-COF","x":480,"y":100},{"s":"5% Tp-DBP-COF","x":485,"y":101},{"s":"5% Tp-DBP-COF","x":490,"y":103},{"s":"5% Tp-DBP-COF","x":495,"y":106},{"s":"5% Tp-DBP-COF","x":500,"y":108},{"s":"5% Tp-DBP-COF","x":503,"y":110}
]},
"encoding":{
"x":{"field":"x","type":"quantitative","scale":{"domain":[0,504],"nice":false,"zero":false},
"axis":{"title":"Cycle Number","titleFontSize":25,"titleFontWeight":"normal","titlePadding":8,"labelPadding":2,"values":[0,50,100,150,200,250,300,350,400,450,500],"labelExpr":"datum.value % 100 == 0 ? datum.label : ''","format":"d","labelFlush":false}},
"y":{"field":"y","type":"quantitative","scale":{"domain":[-100,1200],"nice":false,"zero":false},
"axis":{"title":"Specific Capacity (mAh g⁻¹)","titleFontSize":27,"titleFontWeight":"bold","titlePadding":10,"labelPadding":6,"values":[-100,0,100,200,300,400,500,600,700,800,900,1000,1100,1200],"labelExpr":"datum.value % 200 == 0 ? datum.label : ''","format":"d","labelFlush":false}},
"color":{"field":"s","type":"nominal","scale":{"domain":["P A A","0.5% Tp-DBP-COF","1% Tp-DBP-COF","2% Tp-DBP-COF","3% Tp-DBP-COF","4% Tp-DBP-COF","5% Tp-DBP-COF"],"range":["#e5393b","#ee9a5c","#e4e25c","#2a9d50","#8fd4b6","#4fb3e8","#9270c0"]}}
},
"layer":[
{"transform":[{"filter":"datum.x >= 5"}],"mark":{"type":"line","strokeWidth":7.5,"strokeCap":"round","strokeJoin":"round","interpolate":"monotone"}},
{"mark":{"type":"point","filled":true,"shape":"circle","size":60,"opacity":1,"stroke":"white","strokeWidth":0.6,"strokeOpacity":0.5}},
{"mark":{"type":"point","filled":true,"shape":"circle","size":6,"color":"white","opacity":0.85},"encoding":{"color":{"value":"white"}}}
]
}
